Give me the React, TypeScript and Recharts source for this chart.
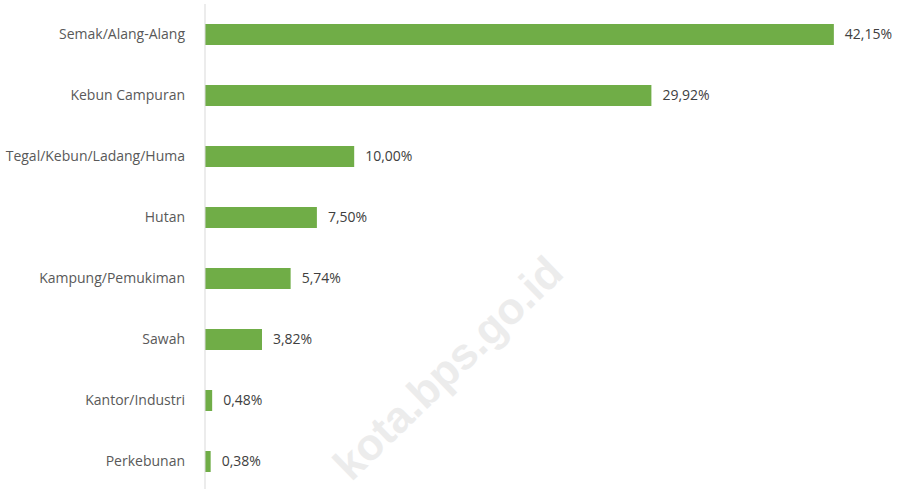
import { BarChart, Bar, XAxis, YAxis, LabelList } from 'recharts'

const categories = [
  'Semak/Alang-Alang',
  'Kebun Campuran',
  'Tegal/Kebun/Ladang/Huma',
  'Hutan',
  'Kampung/Pemukiman',
  'Sawah',
  'Kantor/Industri',
  'Perkebunan'
]
const shares = [42.15, 29.92, 10.0, 7.5, 5.74, 3.82, 0.48, 0.38]

const data = categories.map((name, i) => ({ name, value: shares[i] }))

const fmt = (v: any) => Number(v).toFixed(2).replace('.', ',') + '%'

const FONT = '"Open Sans", sans-serif'

export default function App() {
  return (
    <div style={{ position: 'fixed', left: 0, top: 0, width: 901, height: 489, overflow: 'hidden', background: '#fff' }}>
      <div
        style={{
          position: 'absolute',
          left: 448,
          top: 368,
          transform: 'translate(-50%, -50%) rotate(-44deg)',
          fontFamily: '"Liberation Sans", Arial, sans-serif',
          fontWeight: 700,
          fontSize: 44,
          color: '#ececec',
          whiteSpace: 'nowrap',
          pointerEvents: 'none'
        }}
      >
        kota.bps.go.id
      </div>
      <div style={{ position: 'absolute', left: 0, top: 4 }}>
        <BarChart
          width={901}
          height={488}
          data={data}
          layout="vertical"
          margin={{ top: 0, right: 0, bottom: 0, left: 0 }}
          barSize={21}
        >
          <XAxis type="number" domain={[0, 46.65]} hide />
          <YAxis
            type="category"
            dataKey="name"
            width={205}
            axisLine={{ stroke: '#d9d9d9' }}
            tickLine={false}
            tickMargin={14}
            tick={{ fill: '#595959', fontSize: 14, fontFamily: FONT }}
          />
          <Bar dataKey="value" fill="#70ad47" isAnimationActive={false}>
            <LabelList
              dataKey="value"
              position="right"
              offset={11}
              formatter={fmt}
              style={{ fill: '#404040', fontSize: 14, fontFamily: FONT }}
            />
          </Bar>
        </BarChart>
      </div>
    </div>
  )
}
